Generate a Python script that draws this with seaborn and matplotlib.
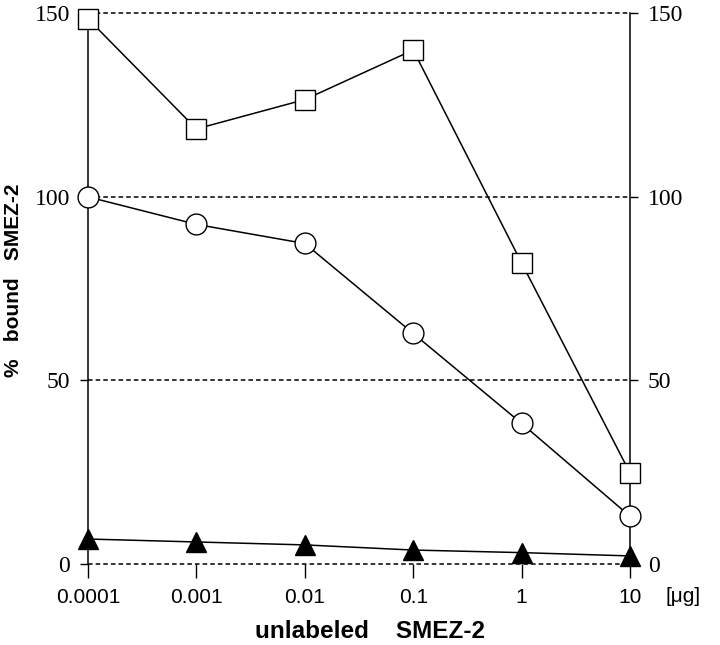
import numpy as np
import pandas as pd
import matplotlib
matplotlib.use('Agg')
import matplotlib.pyplot as plt
import seaborn as sns

# dose of unlabeled SMEZ-2 (ug) and % bound for the three series
dose = [0.0001, 0.001, 0.01, 0.1, 1, 10]
dose_labels = ['0.0001', '0.001', '0.01', '0.1', '1', '10']
squares = [148.5, 118.5, 126.5, 140, 82, 24.8]
circles = [100, 92.5, 87.3, 62.8, 38.3, 13]
triangles = [6.8, 6.0, 5.2, 3.8, 3.1, 2.2]
y_ticks = [0, 50, 100, 150]

sns.set_style('ticks')
plt.rcParams['font.family'] = ['Liberation Sans', 'DejaVu Sans']
plt.rcParams['text.color'] = 'black'

fig = plt.figure(figsize=(7.2, 6.45), dpi=100)
ax = fig.add_axes([88 / 720, 1 - 564 / 645, 542 / 720, 550.7 / 645])

for y0 in y_ticks:
    ax.axhline(y0, color='black', lw=1.1, linestyle=(0, (3, 2)), zorder=1,
               clip_on=False)

common = dict(color='black', linewidth=1.1, markeredgecolor='black',
              markeredgewidth=1.0, clip_on=False, zorder=3, ax=ax)
sns.lineplot(x=dose, y=squares, marker='s', markersize=14,
             markerfacecolor='white', **common)
sns.lineplot(x=dose, y=circles, marker='o', markersize=15,
             markerfacecolor='white', **common)
sns.lineplot(x=dose, y=triangles, marker='^', markersize=15,
             markerfacecolor='black', **common)

ax.set_xscale('log')
ax.set_xlim(1e-4, 10)
ax.set_ylim(0, 150)
ax.set_xticks(dose)
ax.set_xticklabels(dose_labels)
ax.minorticks_off()
ax.set_yticks(y_ticks)
ax.set_yticklabels([str(v) for v in y_ticks])

for side in ['top', 'bottom']:
    ax.spines[side].set_visible(False)
for side in ['left', 'right']:
    ax.spines[side].set_visible(True)
    ax.spines[side].set_linewidth(1.1)
    ax.spines[side].set_color('black')

ax.tick_params(axis='x', direction='out', length=10, width=1, pad=7,
               labelsize=15, colors='black')
ax.tick_params(axis='y', direction='out', length=6, width=1, pad=7,
               labelsize=17, right=True, labelright=True, colors='black')
for t in ax.yaxis.get_major_ticks():
    t.label1.set_fontfamily('Liberation Serif')
    t.label2.set_fontfamily('Liberation Serif')

ax.set_xlabel('')
ax.set_ylabel('')
fig.text(14 / 720, 1 - 280 / 645, '%   bound   SMEZ-2', rotation=90,
         ha='center', va='center', fontsize=15, fontweight='bold')
fig.text(370 / 720, 1 - 631 / 645, 'unlabeled    SMEZ-2',
         ha='center', va='center', fontsize=17.5, fontweight='bold')
fig.text(683 / 720, 1 - 597 / 645, '[\u03bcg]',
         ha='center', va='center', fontsize=15)

fig.savefig('out.png', dpi=100)
